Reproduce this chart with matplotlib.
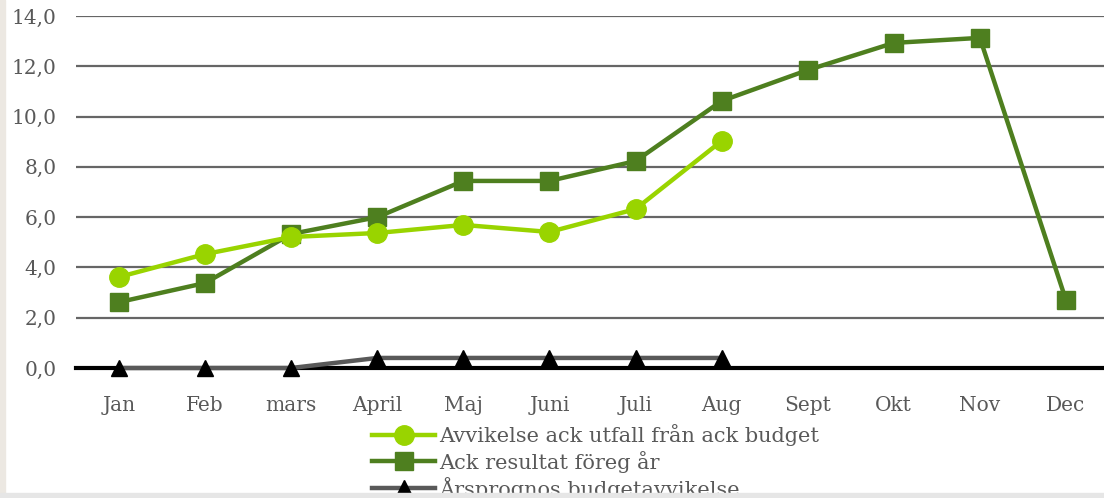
import matplotlib.pyplot as plt
from matplotlib.patches import Rectangle
from matplotlib.ticker import FuncFormatter

months = ['Jan', 'Feb', 'mars', 'April', 'Maj', 'Juni', 'Juli', 'Aug', 'Sept', 'Okt', 'Nov', 'Dec']
avvikelse = [3.62, 4.53, 5.21, 5.37, 5.69, 5.41, 6.32, 9.03]
ack_foreg = [2.62, 3.38, 5.33, 6.0, 7.44, 7.44, 8.23, 10.62, 11.85, 12.93, 13.13, 2.70]
arsprognos = [0.0, 0.0, 0.0, 0.4, 0.4, 0.4, 0.4, 0.4]

labels = ['Avvikelse ack utfall från ack budget', 'Ack resultat föreg år', 'Årsprognos budgetavvikelse']

plt.rcParams['font.family'] = ['DejaVu Serif']
text_color = '#595959'

fig = plt.figure(figsize=(11.04, 4.98), dpi=100)
ax = fig.add_axes([76 / 1104, 130 / 498, 1033 / 1104, 352 / 498])

x = list(range(len(months)))
l1, = ax.plot(x[:len(avvikelse)], avvikelse, color='#99D400', lw=3.2, marker='o', markersize=14, zorder=4)
l2, = ax.plot(x, ack_foreg, color='#4E7F1F', lw=3.2, marker='s', markersize=13, zorder=3)
l3, = ax.plot(x[:len(arsprognos)], arsprognos, color='#595959', lw=3.2, marker='^',
              markersize=12, markerfacecolor='black', markeredgecolor='black', zorder=5, clip_on=False)

ax.set_xlim(-0.5, 11.5)
ax.set_ylim(0, 14)
ax.set_yticks(range(0, 15, 2))
ax.yaxis.set_major_formatter(FuncFormatter(lambda v, p: f'{v:.1f}'.replace('.', ',')))
ax.set_xticks(x)
ax.set_xticklabels(months)
ax.grid(axis='y', color='#666666', lw=1.6)
ax.set_axisbelow(True)
for s in ['top', 'right', 'left']:
    ax.spines[s].set_visible(False)
ax.spines['bottom'].set_color('black')
ax.spines['bottom'].set_linewidth(3)
ax.spines['bottom'].set_zorder(2)
ax.tick_params(length=0, labelsize=14.5, colors=text_color)
ax.tick_params(axis='x', pad=20)
ax.tick_params(axis='y', pad=14)

fig.legend([l1, l2, l3], labels, loc='upper left', bbox_to_anchor=(362 / 1104, 1 - 414 / 498),
           frameon=False, fontsize=15, labelcolor=text_color, handlelength=3.0,
           handletextpad=0.2, labelspacing=0.2, borderpad=0)

# page edges
fig.patches.append(Rectangle((0, 0), 5 / 1104, 1, transform=fig.transFigure, color='#ECE8E2', zorder=10))
fig.patches.append(Rectangle((0, 0), 1, 5 / 498, transform=fig.transFigure, color='#E6E6E6', zorder=10))

fig.savefig('out.png', dpi=100)
